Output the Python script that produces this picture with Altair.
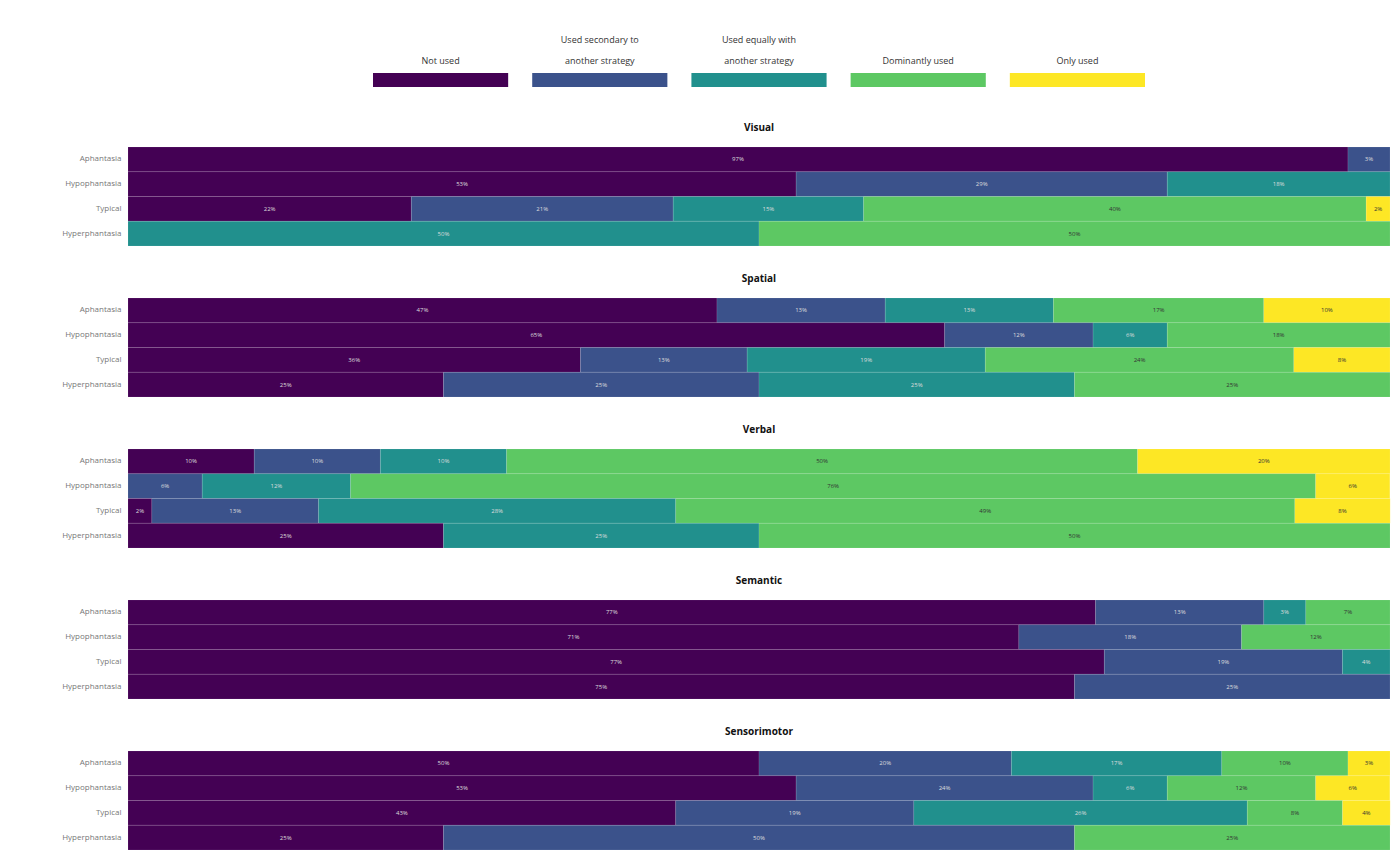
import altair as alt
import pandas as pd

categories = ["Not used", "Used secondary to\nanother strategy", "Used equally with\nanother strategy",
              "Dominantly used", "Only used"]
colors = ["#440154", "#3b528b", "#21908d", "#5dc863", "#fde725"]
groups = ["Aphantasia", "Hypophantasia", "Typical", "Hyperphantasia"]
panels = ["Visual", "Spatial", "Verbal", "Semantic", "Sensorimotor"]

# percentages per group (rows) and category (columns)
visual = [[96.67, 3.33, 0, 0, 0],
          [52.94, 29.41, 17.65, 0, 0],
          [22.45, 20.75, 15.09, 39.82, 1.89],
          [0, 0, 50, 50, 0]]
spatial = [[46.67, 13.33, 13.33, 16.67, 10.0],
           [64.71, 11.76, 5.88, 17.65, 0],
           [35.85, 13.21, 18.87, 24.45, 7.62],
           [25, 25, 25, 25, 0]]
verbal = [[10.0, 10.0, 10.0, 50.0, 20.0],
          [0, 5.88, 11.76, 76.47, 5.88],
          [1.89, 13.21, 28.30, 49.06, 7.55],
          [25, 0, 25, 50, 0]]
semantic = [[76.67, 13.33, 3.33, 6.67, 0],
            [70.59, 17.65, 0, 11.76, 0],
            [77.36, 18.87, 3.77, 0, 0],
            [75, 25, 0, 0, 0]]
sensorimotor = [[50.0, 20.0, 16.67, 10.0, 3.33],
                [52.94, 23.53, 5.88, 11.76, 5.88],
                [43.40, 18.87, 26.42, 7.55, 3.77],
                [25, 50, 0, 25, 0]]

panel_values = [visual, spatial, verbal, semantic, sensorimotor]

FONT = "Open Sans"
PLOT_W = 1262
PLOT_H = 99

color_scale = alt.Scale(domain=categories, range=colors)

# ---- legend ----
leg_df = pd.DataFrame({"cat": categories, "k": [""] * len(categories)})
legend = alt.Chart(leg_df).mark_rect().encode(
    x=alt.X("cat:N", sort=categories,
            scale=alt.Scale(range=[245, 1017], paddingInner=0.151, paddingOuter=0),
            axis=alt.Axis(orient="top", title=None, domain=False, ticks=False, labelAngle=0,
                          labelExpr="length(split(datum.label, '\\n')) > 1 ? split(datum.label, '\\n') : ['', datum.label]",
                          labelLineHeight=21,
                          labelPadding=29, labelFontSize=9, labelColor="#333333",
                          labelFont=FONT, labelOverlap=False, labelBound=False,
                          minExtent=68)),
    y=alt.Y("k:N", scale=alt.Scale(paddingInner=0, paddingOuter=0.3214, align=0),
            axis=alt.Axis(labels=False, ticks=False, domain=False, title=None, minExtent=123)),
    color=alt.Color("cat:N", scale=color_scale, legend=None),
).properties(width=PLOT_W, height=23)


def make_panel(name, rows):
    records = []
    for g, vals in zip(groups, rows):
        for i, (c, v) in enumerate(zip(categories, vals)):
            if v > 0:
                records.append({"group": g, "cat": c, "order": i, "value": v})
    df = pd.DataFrame(records)
    xscale = alt.Scale(domain=[0, 100], nice=False, zero=True)
    base = alt.Chart(df).encode(
        y=alt.Y("group:N", sort=groups,
                scale=alt.Scale(paddingInner=0, paddingOuter=0),
                axis=alt.Axis(title=None, domain=False, ticks=False, labelFontSize=8,
                              labelColor="#777777", labelFont=FONT, labelPadding=7,
                              minExtent=123)),
    )
    bars = base.mark_bar(stroke="white", strokeWidth=0.5, strokeOpacity=0.2).encode(
        x=alt.X("value:Q", stack="zero", scale=xscale, axis=None),
        color=alt.Color("cat:N", scale=color_scale, legend=None),
        order=alt.Order("order:Q"),
    )
    text = base.transform_window(
        cum="sum(value)", groupby=["group"], sort=[alt.SortField("order")]
    ).transform_calculate(
        mid="datum.cum - datum.value / 2",
        label="format(datum.value, '.0f') + '%'",
    ).mark_text(fontSize=6, font=FONT).encode(
        x=alt.X("mid:Q", scale=xscale, axis=None),
        text="label:N",
        color=alt.condition("datum.order >= 3", alt.value("#333333"), alt.value("#dddddd")),
    )
    return alt.layer(bars, text).properties(
        width=PLOT_W, height=PLOT_H,
        title=alt.TitleParams(name, fontSize=10, fontWeight="bold", font=FONT,
                              anchor="middle", offset=14, color="#111111"),
    )


charts = [legend] + [make_panel(n, v) for n, v in zip(panels, panel_values)]
chart = alt.vconcat(*charts, spacing=26).configure_view(stroke=None).properties(
    background="white"
)

chart.save("out.html", embed_options={"renderer": "svg", "actions": False})
